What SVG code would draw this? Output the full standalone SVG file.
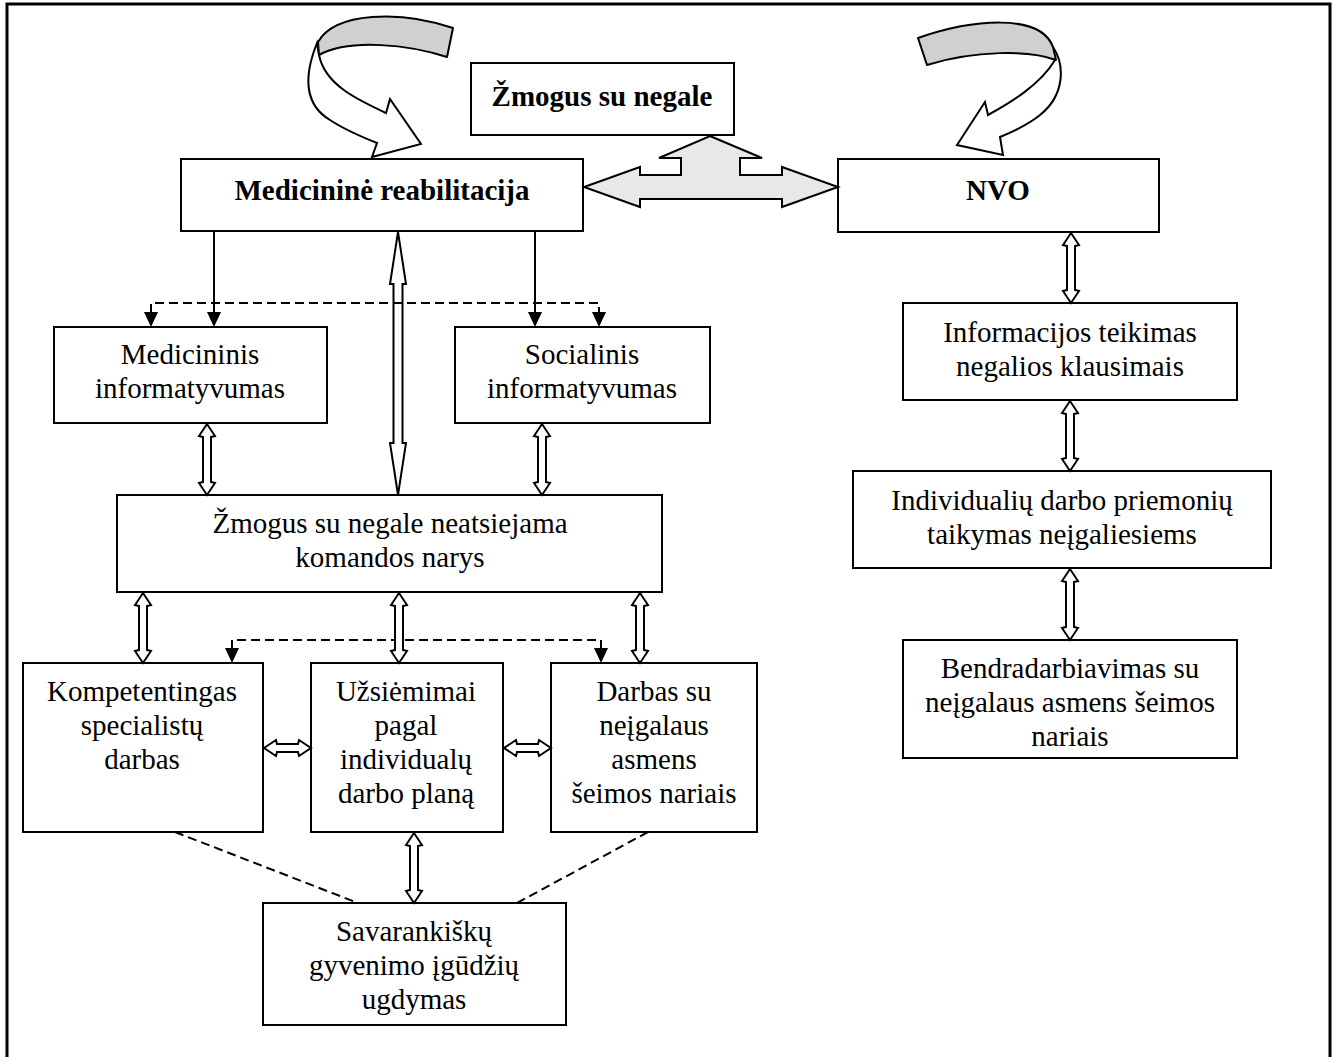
<svg xmlns="http://www.w3.org/2000/svg" width="1334" height="1057" viewBox="0 0 1334 1057">
<style>
.box{fill:#fff;stroke:#000;stroke-width:2}
.t{font-family:"Liberation Serif","Times New Roman",serif;font-size:29px;fill:#000;text-anchor:middle}
.b{font-weight:bold}
.da{fill:#fff;stroke:#000;stroke-width:2;stroke-linejoin:miter}
.ln{stroke:#000;stroke-width:2;fill:none}
.dash{stroke:#000;stroke-width:2;fill:none;stroke-dasharray:9,5}
.hd{fill:#000;stroke:none}
.band{fill:#d0d0d0;stroke:#000;stroke-width:2;stroke-linejoin:round}
.body{fill:#fff;stroke:#000;stroke-width:2;stroke-linejoin:miter}
</style>
<rect x="0" y="0" width="1334" height="1057" fill="#fff"/>
<rect x="7" y="4" width="1323" height="1060" fill="none" stroke="#000" stroke-width="3"/>

<g id="curved-left">
<path class="body" d="M317,43 C303,78 305,105 330,120 C345,130 362,137 377,143 L372,157 L421,144 L390,99 L386,113 C358,100 325,85 319,55 Z"/>
<path class="band" d="M318,42 C335,12 400,10 453,28 L447,57 C410,45 350,38 319,55 Z"/>
</g>
<g id="curved-right">
<path class="body" d="M1053,47 C1065,65 1065,95 1040,115 C1028,125 1012,132 1000,137 L1003,155 L957,145 L985,102 L988,115 C1010,103 1040,85 1055,60 Z"/>
<path class="band" d="M918,38 C970,20 1040,12 1053,47 L1056,60 C1030,50 975,50 927,65 Z"/>
</g>

<g id="n-zmogus"><rect class="box" x="471" y="63" width="263" height="72"/><text class="t b" x="602" y="106">Žmogus su negale</text></g>
<g id="n-medreab"><rect class="box" x="181" y="159" width="402" height="72"/><text class="t b" x="382" y="200">Medicininė reabilitacija</text></g>
<g id="n-nvo"><rect class="box" x="838" y="159" width="321" height="73"/><text class="t b" x="998" y="200">NVO</text></g>
<g id="n-medinf"><rect class="box" x="54" y="327" width="273" height="96"/><text class="t" x="190" y="364">Medicininis</text><text class="t" x="190" y="398">informatyvumas</text></g>
<g id="n-socinf"><rect class="box" x="455" y="327" width="255" height="96"/><text class="t" x="582" y="364">Socialinis</text><text class="t" x="582" y="398">informatyvumas</text></g>
<g id="n-komanda"><rect class="box" x="117" y="495" width="545" height="97"/><text class="t" x="390" y="533">Žmogus su negale neatsiejama</text><text class="t" x="390" y="567">komandos narys</text></g>
<g id="n-komp"><rect class="box" x="23" y="663" width="240" height="169"/><text class="t" x="142" y="701">Kompetentingas</text><text class="t" x="142" y="735">specialistų</text><text class="t" x="142" y="769">darbas</text></g>
<g id="n-uzs"><rect class="box" x="311" y="663" width="192" height="169"/><text class="t" x="406" y="701">Užsiėmimai</text><text class="t" x="406" y="735">pagal</text><text class="t" x="406" y="769">individualų</text><text class="t" x="406" y="803">darbo planą</text></g>
<g id="n-darbas"><rect class="box" x="551" y="663" width="206" height="169"/><text class="t" x="654" y="701">Darbas su</text><text class="t" x="654" y="735">neįgalaus</text><text class="t" x="654" y="769">asmens</text><text class="t" x="654" y="803">šeimos nariais</text></g>
<g id="n-savar"><rect class="box" x="263" y="903" width="303" height="122"/><text class="t" x="414" y="941">Savarankiškų</text><text class="t" x="414" y="975">gyvenimo įgūdžių</text><text class="t" x="414" y="1009">ugdymas</text></g>
<g id="n-info"><rect class="box" x="903" y="303" width="334" height="97"/><text class="t" x="1070" y="342">Informacijos teikimas</text><text class="t" x="1070" y="376">negalios klausimais</text></g>
<g id="n-indiv"><rect class="box" x="853" y="471" width="418" height="97"/><text class="t" x="1062" y="510">Individualių darbo priemonių</text><text class="t" x="1062" y="544">taikymas neįgaliesiems</text></g>
<g id="n-bendr"><rect class="box" x="903" y="640" width="334" height="118"/><text class="t" x="1070" y="678">Bendradarbiavimas su</text><text class="t" x="1070" y="712">neįgalaus asmens šeimos</text><text class="t" x="1070" y="746">nariais</text></g>

<g id="connectors">
<path class="da" style="fill:#e8e8e8" d="M710,136 L762,158 L740,158 L740,175 L782,175 L782,167 L838,187 L782,207 L782,199 L640,199 L640,207 L584,187 L640,167 L640,175 L681,175 L681,158 L659,158 Z"/>
<path class="da" d="M398,232 L406,284 L402.5,284 L402.5,443 L406,443 L398,495 L390,443 L393.5,443 L393.5,284 L390,284 Z"/>
<path class="ln" d="M214,232 V313"/><polygon class="hd" points="207,312 221,312 214,327"/>
<path class="ln" d="M535,232 V313"/><polygon class="hd" points="528,312 542,312 535,327"/>
<path class="dash" d="M151,313 V303 H599 V313"/>
<polygon class="hd" points="144,312 158,312 151,327"/>
<polygon class="hd" points="592,312 606,312 599,327"/>
<path class="dash" d="M232,649 V640 H601 V649"/>
<polygon class="hd" points="225,648 239,648 232,663"/>
<polygon class="hd" points="594,648 608,648 601,663"/>
<path class="dash" d="M175,832 L358,903"/>
<path class="dash" d="M648,832 L517,903"/>
<path class="da" d="M207,424 L215,436 L211,437 L211,482 L215,483 L207,495 L199,483 L203,482 L203,437 L199,436 Z"/>
<path class="da" d="M542,424 L550,436 L546,437 L546,482 L550,483 L542,495 L534,483 L538,482 L538,437 L534,436 Z"/>
<path class="da" d="M143,593 L151,605 L147,606 L147,650 L151,651 L143,663 L135,651 L139,650 L139,606 L135,605 Z"/>
<path class="da" d="M399,593 L407,605 L403,606 L403,650 L407,651 L399,663 L391,651 L395,650 L395,606 L391,605 Z"/>
<path class="da" d="M640,593 L648,605 L644,606 L644,650 L648,651 L640,663 L632,651 L636,650 L636,606 L632,605 Z"/>
<path class="da" d="M414,833 L422,845 L418,846 L418,890 L422,891 L414,903 L406,891 L410,890 L410,846 L406,845 Z"/>
<path class="da" d="M1071,233 L1079,245 L1075,246 L1075,290 L1079,291 L1071,303 L1063,291 L1067,290 L1067,246 L1063,245 Z"/>
<path class="da" d="M1070,401 L1078,413 L1074,414 L1074,458 L1078,459 L1070,471 L1062,459 L1066,458 L1066,414 L1062,413 Z"/>
<path class="da" d="M1070,569 L1078,581 L1074,582 L1074,627 L1078,628 L1070,640 L1062,628 L1066,627 L1066,582 L1062,581 Z"/>
<path class="da" d="M264,748 L276,740 L277,744 L298,744 L299,740 L311,748 L299,756 L298,752 L277,752 L276,756 Z"/>
<path class="da" d="M504,748 L516,740 L517,744 L538,744 L539,740 L551,748 L539,756 L538,752 L517,752 L516,756 Z"/>
</g>
</svg>
